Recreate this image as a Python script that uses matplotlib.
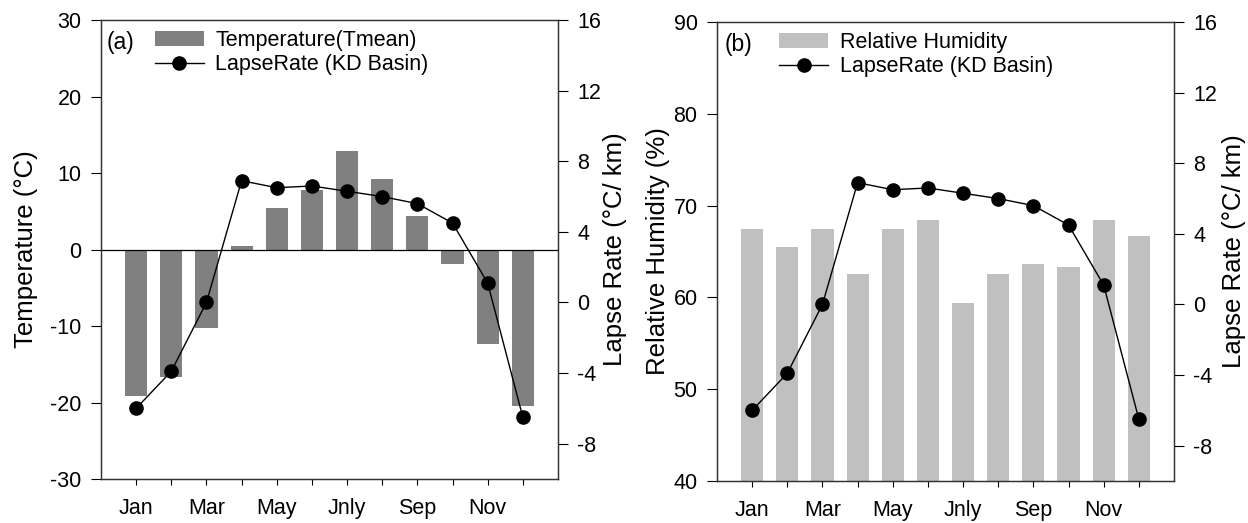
import matplotlib
matplotlib.use("Agg")
import matplotlib.pyplot as plt
import numpy as np

plt.rcParams['font.family'] = ['Liberation Sans', 'DejaVu Sans']
plt.rcParams['axes.unicode_minus'] = False

# monthly data
months = np.arange(1, 13)
month_labels = ["Jan", "", "Mar", "", "May", "", "Jnly", "", "Sep", "", "Nov", ""]
tmean = [-19.2, -16.6, -10.2, 0.5, 5.4, 7.8, 12.9, 9.2, 4.4, -1.9, -12.3, -20.4]
rh = [67.4, 65.5, 67.5, 62.6, 67.4, 68.4, 59.4, 62.5, 63.6, 63.3, 68.4, 66.7]
lapse = [-6.0, -3.9, 0.0, 6.9, 6.5, 6.6, 6.3, 6.0, 5.6, 4.5, 1.1, -6.5]

fig = plt.figure(figsize=(12.48, 5.23), dpi=100)
axa = fig.add_axes([0.0809, 0.0841, 0.3662, 0.8776])
axb = fig.add_axes([0.5745, 0.0803, 0.3662, 0.8776])

fs_tick = 15.5
fs_lab = 18.5

def style(ax, ax2):
    ax.set_xlim(0, 13)
    ax.set_xticks(months)
    ax.set_xticklabels(month_labels)
    ax.tick_params(axis='x', direction='out', length=4.5, pad=9, labelsize=fs_tick)
    ax.tick_params(axis='y', direction='out', length=7, pad=7, labelsize=fs_tick)
    ax2.tick_params(axis='y', direction='out', length=7, pad=7, labelsize=fs_tick)
    for a in (ax, ax2):
        for s in a.spines.values():
            s.set_linewidth(0.9)
            s.set_color('#333333')
    ax2.set_ylim(-10, 16)
    ax2.set_yticks([-8, -4, 0, 4, 8, 12, 16])
    ax2.set_ylabel("Lapse Rate (°C/ km)", fontsize=fs_lab)

def add_legend(ax, handles, labels, x0):
    ax.legend(handles, labels, loc='upper left', bbox_to_anchor=(x0, 0.978),
              frameon=False, fontsize=fs_tick, handlelength=2.28,
              handletextpad=0.53, labelspacing=0.15, borderaxespad=0,
              borderpad=0)

# panel (a)
bars_a = axa.bar(months, tmean, width=0.63, color='#808080', zorder=2)
axa.axhline(0, color='black', linewidth=0.9, zorder=3)
axa.set_ylim(-30, 30)
axa.set_yticks([-30, -20, -10, 0, 10, 20, 30])
axa.set_ylabel("Temperature (°C)", fontsize=fs_lab)
axa2 = axa.twinx()
line_a, = axa2.plot(months, lapse, '-o', color='black', linewidth=1, markersize=9.5)
style(axa, axa2)
axa.yaxis.set_label_coords(-0.138, 0.5)
axa2.yaxis.set_label_coords(1.098, 0.5)
axa.text(0.013, 0.95, "(a)", transform=axa.transAxes, fontsize=16.5, va='center')
add_legend(axa, [bars_a, line_a], ["Temperature(Tmean)", "LapseRate (KD Basin)"], 0.118)

# panel (b)
bars_b = axb.bar(months, rh, width=0.63, color='#c0c0c0', zorder=2)
axb.set_ylim(40, 90)
axb.set_yticks([40, 50, 60, 70, 80, 90])
axb.set_ylabel("Relative Humidity (%)", fontsize=fs_lab)
axb2 = axb.twinx()
line_b, = axb2.plot(months, lapse, '-o', color='black', linewidth=1, markersize=9.5)
style(axb, axb2)
axb.yaxis.set_label_coords(-0.103, 0.5)
axb2.yaxis.set_label_coords(1.105, 0.5)
axb.text(0.0175, 0.95, "(b)", transform=axb.transAxes, fontsize=16.5, va='center')
add_legend(axb, [bars_b, line_b], ["Relative Humidity", "LapseRate (KD Basin)"], 0.136)

fig.savefig("out.png", dpi=100)
